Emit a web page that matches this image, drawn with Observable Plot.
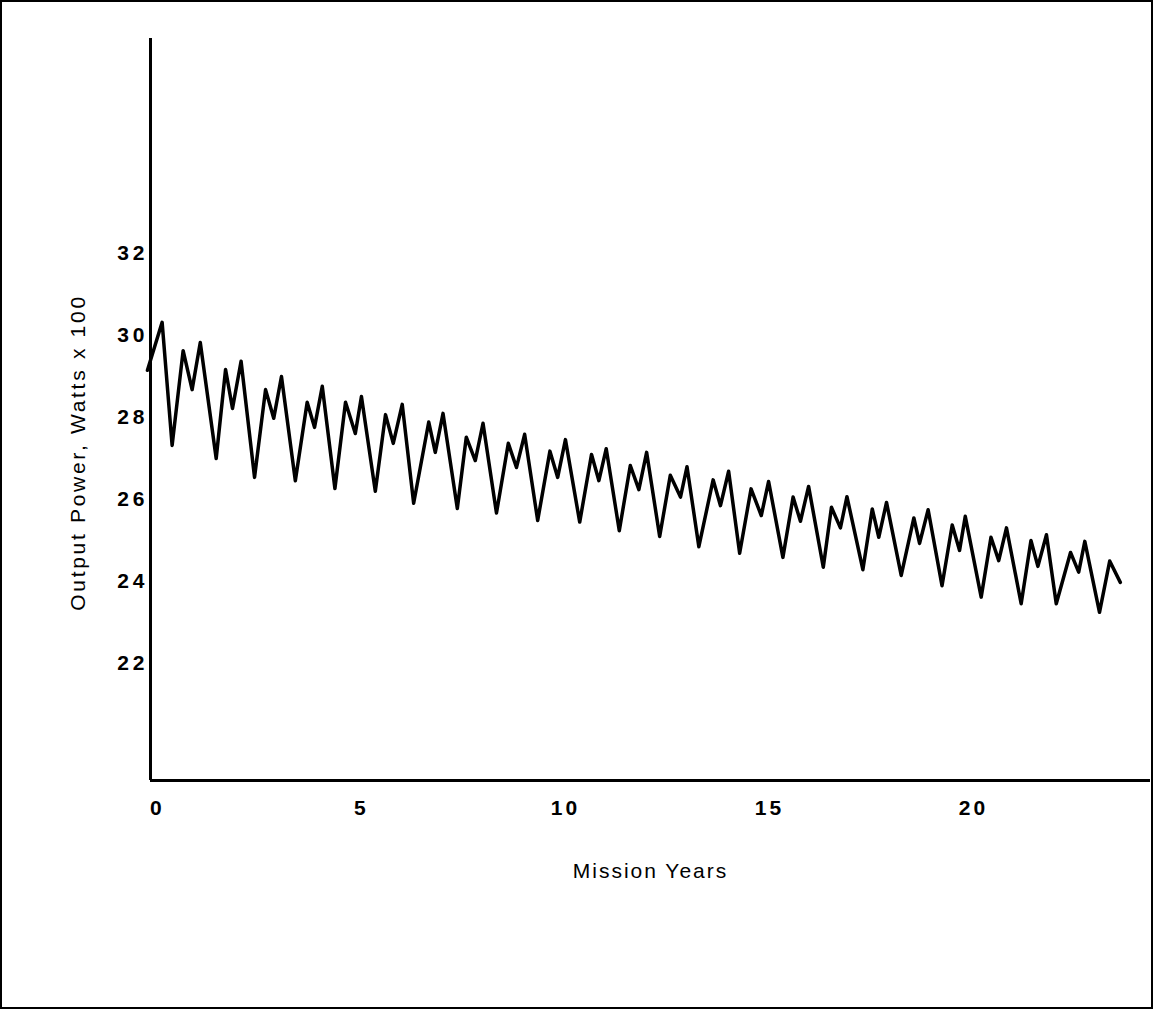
<!DOCTYPE html>
<html>
<head>
<meta charset="utf-8">
<script src="https://cdn.jsdelivr.net/npm/d3@7"></script>
<script src="https://cdn.jsdelivr.net/npm/@observablehq/plot@0.6"></script>
<style>
  html, body { margin: 0; padding: 0; background: #fff; }
  #frame { position: absolute; left: 0; top: 0; width: 1149px; height: 1005px; border: 2px solid #000; }
  #frame svg { display: block; }
  g[aria-label="y-axis tick label"] text { letter-spacing: 4px; font-weight: bold; }
  g[aria-label="x-axis tick label"] text { letter-spacing: 3px; font-weight: bold; }
  .xtitle text { letter-spacing: 2px; }
  .ytitle text { letter-spacing: 2.7px; }
</style>
</head>
<body>
<div id="frame"></div>
<script>
const years = [-0.245,0.115,0.36,0.63,0.85,1.05,1.44,1.67,1.84,2.05,2.38,2.65,2.85,3.04,3.38,3.67,3.85,4.04,4.35,4.61,4.85,5.0,5.34,5.59,5.78,6.0,6.28,6.65,6.81,7.0,7.35,7.57,7.79,7.98,8.31,8.6,8.8,9.0,9.32,9.62,9.81,10.0,10.35,10.64,10.82,11.0,11.32,11.59,11.8,11.99,12.31,12.57,12.82,12.98,13.27,13.62,13.8,14.0,14.27,14.55,14.8,14.98,15.33,15.58,15.76,15.96,16.32,16.52,16.74,16.9,17.29,17.52,17.68,17.87,18.23,18.54,18.68,18.89,19.23,19.48,19.66,19.8,20.19,20.43,20.62,20.81,21.17,21.41,21.58,21.79,22.03,22.38,22.58,22.73,23.09,23.34,23.6];
const power = [29.15,30.32,27.32,29.63,28.68,29.83,27.0,29.17,28.22,29.37,26.54,28.68,27.98,29.0,26.46,28.37,27.76,28.76,26.27,28.37,27.61,28.51,26.2,28.07,27.37,28.32,25.91,27.89,27.15,28.1,25.78,27.52,26.95,27.86,25.67,27.37,26.78,27.59,25.49,27.18,26.54,27.46,25.45,27.1,26.46,27.24,25.24,26.83,26.24,27.15,25.1,26.59,26.06,26.8,24.85,26.48,25.85,26.69,24.69,26.26,25.61,26.44,24.59,26.06,25.47,26.32,24.35,25.81,25.31,26.07,24.29,25.77,25.08,25.93,24.15,25.55,24.93,25.75,23.9,25.38,24.76,25.59,23.62,25.08,24.51,25.31,23.46,25.0,24.37,25.14,23.46,24.71,24.23,24.98,23.25,24.5,23.98];
const xTicks = [0, 5, 10, 15, 20];
const yTicks = [22, 24, 26, 28, 30, 32];
const xTitle = "Mission Years";
const yTitle = "Output Power, Watts x 100";

const xDomain = [-0.17, 24.34];
const yDomain = [19.15, 37.24];
const data = years.map((x, i) => ({x, y: power[i]}));

const font = "'Liberation Sans', Arial, Helvetica, sans-serif";

const chart = Plot.plot({
  width: 1149,
  height: 1005,
  marginLeft: 148,
  marginRight: 1,
  marginTop: 36,
  marginBottom: 227,
  style: {fontFamily: font, fontSize: "21px", color: "#000", background: "#fff"},
  x: {domain: xDomain},
  y: {domain: yDomain},
  marks: [
    Plot.axisX(xTicks, {tickSize: 0, tickPadding: 20, fontSize: 21, label: null}),
    Plot.axisY(yTicks, {tickSize: 0, tickPadding: 2, fontSize: 21, label: null}),
    Plot.ruleX([xDomain[0]], {stroke: "#000", strokeWidth: 3}),
    Plot.ruleY([yDomain[0]], {stroke: "#000", strokeWidth: 3}),
    Plot.line(data, {x: "x", y: "y", stroke: "#000", strokeWidth: 3.5, strokeLinejoin: "round", strokeLinecap: "round"}),
    Plot.text([xTitle], {frameAnchor: "bottom", lineAnchor: "middle", textAnchor: "middle", dy: 91, fontSize: 21, text: d => d, fill: "#000", className: "xtitle"}),
    Plot.text([yTitle], {frameAnchor: "left", lineAnchor: "middle", textAnchor: "middle", dx: -72, dy: 43, rotate: -90, fontSize: 21, text: d => d, fill: "#000", className: "ytitle"})
  ]
});
document.getElementById("frame").appendChild(chart);
</script>
</body>
</html>
